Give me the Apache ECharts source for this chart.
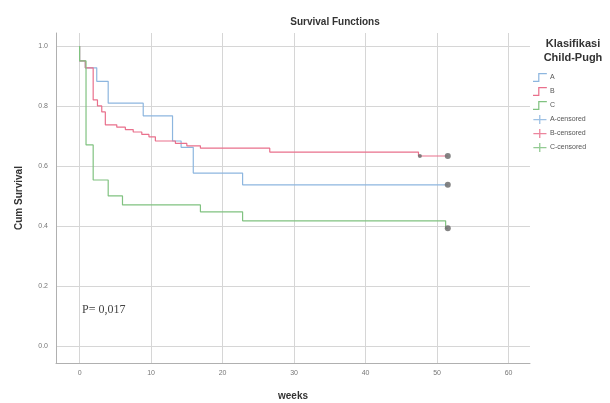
<!DOCTYPE html>
<html>
<head>
<meta charset="utf-8">
<script src="https://cdn.jsdelivr.net/npm/echarts@6/dist/echarts.min.js"></script>
<style>
html,body{margin:0;padding:0;background:#fff;}
#chart{width:610px;height:403px;}
</style>
</head>
<body>
<div id="chart"></div>
<script>
// Kaplan-Meier step data (time in weeks, cumulative survival after the step)
const weeksA = [0, 0, 0.8, 2.4, 4.0, 8.9, 13.0, 14.2, 15.9, 22.8, 51.5];
const survA  = [1, 0.95, 0.927, 0.882, 0.809, 0.767, 0.683, 0.662, 0.576, 0.537, 0.537];

const weeksB = [0, 0, 0.8, 1.9, 2.5, 3.1, 3.6, 5.2, 6.4, 7.5, 8.7, 9.7, 10.6, 13.4, 15.0, 16.9, 26.6, 47.4, 51.5];
const survB  = [1, 0.95, 0.927, 0.82, 0.80, 0.78, 0.737, 0.729, 0.721, 0.713, 0.705, 0.697, 0.683, 0.675, 0.667, 0.659, 0.646, 0.633, 0.633];

const weeksC = [0, 0, 0.9, 1.9, 4.0, 6.0, 16.9, 22.8, 51.2, 51.5];
const survC  = [1, 0.95, 0.67, 0.553, 0.50, 0.47, 0.447, 0.417, 0.392, 0.392];

// censored observations
const censWeeksA = [51.5];
const censSurvA  = [0.537];
const censWeeksB = [47.6, 51.5];
const censSurvB  = [0.633, 0.633];
const censSizeB  = [4, 6];
const censWeeksC = [51.5];
const censSurvC  = [0.392];

const groupNames = ['A', 'B', 'C', 'A-censored', 'B-censored', 'C-censored'];
const xTicks = [0, 10, 20, 30, 40, 50, 60];
const yTicks = [0.0, 0.2, 0.4, 0.6, 0.8, 1.0];

const colA = '#8db6df', colB = '#e9708c', colC = '#80c280';
const censColor = '#6e6e6e';

const zip = (xs, ys) => xs.map((x, i) => [x, ys[i]]);

const stepIcon = 'path://M0,12 L6,12 L6,3 L16,3 L16,4.4 L7.4,4.4 L7.4,13.4 L0,13.4 Z';
const censIcon = 'path://M0,7 L7,7 L7,2 L8.6,2 L8.6,7 L16,7 L16,8.4 L8.6,8.4 L8.6,13 L7,13 L7,8.4 L0,8.4 Z';

const font = 'Liberation Sans, Arial, sans-serif';

const chart = echarts.init(document.getElementById('chart'));
const option = {
  animation: false,
  backgroundColor: '#ffffff',
  title: [
    { text: 'Survival Functions', left: 330, top: 12, textAlign: 'center',
      textStyle: { fontFamily: font, fontSize: 10, fontWeight: 'bold', color: '#333' } },
    { text: 'Klasifikasi\nChild-Pugh', left: 568, top: 32, textAlign: 'center',
      textStyle: { fontFamily: font, fontSize: 11, fontWeight: 'bold', color: '#333', lineHeight: 14 } }
  ],
  legend: {
    orient: 'vertical', left: 528, top: 68, itemGap: 5, itemWidth: 16, itemHeight: 9,
    textStyle: { fontFamily: font, fontSize: 7, color: '#555', padding: [0, 0, 0, -3] },
    data: [
      { name: 'A', icon: stepIcon, itemStyle: { color: colA } },
      { name: 'B', icon: stepIcon, itemStyle: { color: colB } },
      { name: 'C', icon: stepIcon, itemStyle: { color: colC } },
      { name: 'A-censored', icon: censIcon, itemStyle: { color: colA } },
      { name: 'B-censored', icon: censIcon, itemStyle: { color: colB } },
      { name: 'C-censored', icon: censIcon, itemStyle: { color: colC } }
    ]
  },
  grid: { left: 56, right: 80, top: 33, bottom: 40, containLabel: false, outerBoundsMode: 'none' },
  xAxis: {
    type: 'value', min: -3.3, max: 63,
    name: 'weeks', nameLocation: 'middle', nameGap: 28,
    nameTextStyle: { fontFamily: font, fontSize: 10, fontWeight: 'bold', color: '#333' },
    axisLine: { show: true, onZero: false, lineStyle: { color: '#b0b0b0', width: 1 } },
    axisTick: { show: false },
    axisLabel: { fontSize: 7, color: '#777', margin: 7,
      formatter: v => xTicks.indexOf(Math.round(v * 1000) / 1000) >= 0 ? String(Math.round(v)) : '' },
    splitLine: { show: true, showMinLine: false, showMaxLine: false, lineStyle: { color: '#d6d6d6', width: 1 } }
  },
  yAxis: {
    type: 'value', min: -0.057, max: 1.043,
    name: 'Cum Survival', nameLocation: 'middle', nameGap: 32, nameRotate: 90,
    nameTextStyle: { fontFamily: font, fontSize: 10, fontWeight: 'bold', color: '#333' },
    axisLine: { show: true, onZero: false, lineStyle: { color: '#b0b0b0', width: 1 } },
    axisTick: { show: false },
    axisLabel: { fontSize: 7, color: '#777', margin: 8,
      formatter: v => {
        const r = Math.round(v * 10) / 10;
        return (Math.abs(v - r) < 1e-6 && yTicks.some(t => Math.abs(t - r) < 1e-6)) ? r.toFixed(1) : '';
      } },
    splitLine: { show: true, showMinLine: false, showMaxLine: false, lineStyle: { color: '#d6d6d6', width: 1 } }
  },
  graphic: [
    { type: 'text', left: 82, top: 304,
      style: { text: 'P= 0,017', fontFamily: 'Liberation Serif, Times New Roman, serif', fontSize: 12, fill: '#444' } }
  ],
  series: [
    { name: groupNames[0], type: 'line', step: 'end', data: zip(weeksA, survA), symbol: 'none',
      lineStyle: { color: colA, width: 1.2 }, itemStyle: { color: colA }, z: 3 },
    { name: groupNames[1], type: 'line', step: 'end', data: zip(weeksB, survB), symbol: 'none',
      lineStyle: { color: colB, width: 1.2 }, itemStyle: { color: colB }, z: 3 },
    { name: groupNames[2], type: 'line', step: 'end', data: zip(weeksC, survC), symbol: 'none',
      lineStyle: { color: colC, width: 1.2 }, itemStyle: { color: colC }, z: 3 },
    { name: groupNames[3], type: 'scatter', data: zip(censWeeksA, censSurvA), symbol: 'circle', symbolSize: 6,
      itemStyle: { color: censColor, opacity: 0.85 }, z: 4 },
    { name: groupNames[4], type: 'scatter', data: zip(censWeeksB, censSurvB), symbol: 'circle',
      symbolSize: (val, p) => censSizeB[p.dataIndex],
      itemStyle: { color: censColor, opacity: 0.85 }, z: 4 },
    { name: groupNames[5], type: 'scatter', data: zip(censWeeksC, censSurvC), symbol: 'circle', symbolSize: 6,
      itemStyle: { color: censColor, opacity: 0.85 }, z: 4 }
  ]
};
chart.setOption(option);
</script>
</body>
</html>
